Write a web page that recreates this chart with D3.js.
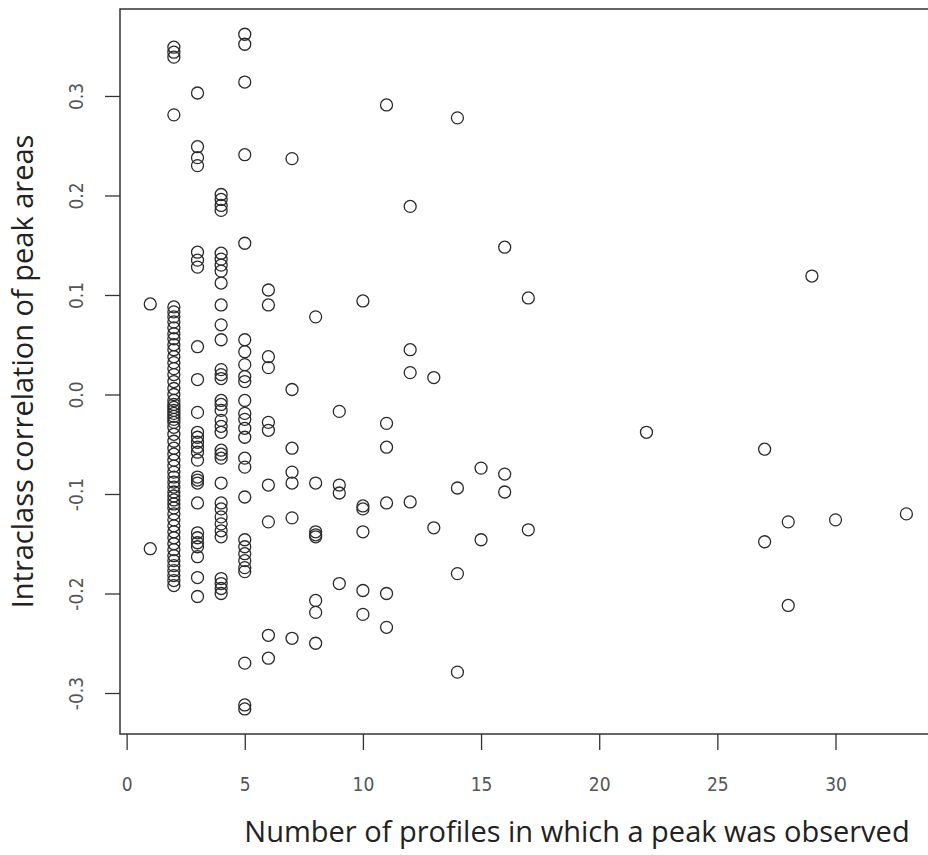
<!DOCTYPE html>
<html>
<head>
<meta charset="utf-8">
<script src="https://cdn.jsdelivr.net/npm/d3@7"></script>
<style>
  body { margin: 0; background: #fff; }
</style>
</head>
<body>
<div id="chart"></div>
<script>
// number of profiles (x) and the intraclass correlations seen at that count (y)
var profileCounts = [1, 2, 3, 4, 5, 6, 7, 8, 9, 10, 11, 12, 13, 14, 15, 16, 17, 22, 27, 28, 29, 30, 33];

var iccValues = [
    [0.091, -0.155],
    [0.349, 0.344, 0.339, 0.281,
     0.088, 0.083, 0.078, 0.073, 0.067, 0.061, 0.056, 0.05, 0.045, 0.038, 0.032, 0.026, 0.02, 0.013, 0.006, 0.0,
     -0.006, -0.01, -0.013, -0.016, -0.019, -0.022, -0.025, -0.028, -0.033, -0.04, -0.047, -0.054, -0.06, -0.066,
     -0.072, -0.078, -0.083, -0.088, -0.093, -0.098, -0.102, -0.106, -0.11, -0.114, -0.12, -0.126, -0.132, -0.138,
     -0.144, -0.15, -0.156, -0.162, -0.167, -0.172, -0.177, -0.182, -0.187, -0.192],
    [0.303, 0.249, 0.238, 0.23, 0.143, 0.135, 0.128, 0.048, 0.015, -0.018, -0.038, -0.043, -0.048, -0.053, -0.058,
     -0.066, -0.083, -0.086, -0.089, -0.109, -0.139, -0.144, -0.149, -0.153, -0.163, -0.184, -0.203],
    [0.201, 0.196, 0.19, 0.185, 0.142, 0.136, 0.13, 0.124, 0.112, 0.09, 0.07, 0.055, 0.025, 0.02, 0.016,
     -0.006, -0.01, -0.016, -0.026, -0.032, -0.038, -0.056, -0.06, -0.064, -0.089, -0.109, -0.115,
     -0.123, -0.13, -0.137, -0.143, -0.185, -0.19, -0.195, -0.2],
    [0.362, 0.352, 0.314, 0.241, 0.152, 0.055, 0.043, 0.03, 0.018, 0.013, -0.006, -0.019, -0.025, -0.034, -0.043,
     -0.064, -0.073, -0.103, -0.146, -0.153, -0.16, -0.167, -0.174, -0.178, -0.27, -0.312, -0.316],
    [0.105, 0.09, 0.038, 0.027, -0.028, -0.036, -0.091, -0.128, -0.242, -0.265],
    [0.237, 0.005, -0.054, -0.078, -0.089, -0.124, -0.245],
    [0.078, -0.089, -0.138, -0.141, -0.143, -0.207, -0.219, -0.25],
    [-0.017, -0.091, -0.099, -0.19],
    [0.094, -0.112, -0.115, -0.138, -0.197, -0.221],
    [0.291, -0.029, -0.053, -0.109, -0.2, -0.234],
    [0.189, 0.045, 0.022, -0.108],
    [0.017, -0.134],
    [0.278, -0.094, -0.18, -0.279],
    [-0.074, -0.146],
    [0.148, -0.08, -0.098],
    [0.097, -0.136],
    [-0.038],
    [-0.055, -0.148],
    [-0.128, -0.212],
    [0.119],
    [-0.126],
    [-0.12]
];

var xTicks = [0, 5, 10, 15, 20, 25, 30];
var yTicks = [-0.3, -0.2, -0.1, 0.0, 0.1, 0.2, 0.3];

var xTitle = "Number of profiles in which a peak was observed";
var yTitle = "Intraclass correlation of peak areas";

var width = 928, height = 855;
var plot = { left: 120, right: 1034, top: 9, bottom: 734 };

var points = [];
profileCounts.forEach(function (n, i) {
    iccValues[i].forEach(function (v) {
        points.push({ n: n, icc: v });
    });
});

var x = d3.scaleLinear().domain([-0.28, 38.4]).range([plot.left, plot.right]);
var y = d3.scaleLinear().domain([-0.3412, 0.3874]).range([plot.bottom, plot.top]);

var svg = d3.select("#chart")
    .append("svg")
    .attr("width", width)
    .attr("height", height)
    .style("font-family", "'Open Sans', 'Noto Sans', sans-serif");

// points
svg.append("g")
    .selectAll("circle")
    .data(points)
    .enter()
    .append("circle")
    .attr("cx", function (d) { return x(d.n); })
    .attr("cy", function (d) { return y(d.icc); })
    .attr("r", 6)
    .attr("fill", "none")
    .attr("stroke", "#2a2a2a")
    .attr("stroke-width", 1.3);

// box around the plot region
svg.append("rect")
    .attr("x", plot.left)
    .attr("y", plot.top)
    .attr("width", plot.right - plot.left)
    .attr("height", plot.bottom - plot.top)
    .attr("fill", "none")
    .attr("stroke", "#333")
    .attr("stroke-width", 1.5);

var xAxis = svg.append("g")
    .attr("transform", "translate(0," + plot.bottom + ")")
    .call(d3.axisBottom(x).tickValues(xTicks).tickSize(16).tickPadding(28).tickFormat(d3.format("d")));
xAxis.select(".domain").remove();
xAxis.selectAll("line").attr("stroke", "#333").attr("stroke-width", 1.3);
xAxis.selectAll("text")
    .attr("font-size", 19)
    .attr("fill", "#555")
    .attr("font-family", "'DejaVu Sans Condensed', 'Open Sans', sans-serif");

var yAxis = svg.append("g")
    .attr("transform", "translate(" + plot.left + ",0)")
    .call(d3.axisLeft(y).tickValues(yTicks).tickSize(15).tickFormat(d3.format(".1f")));
yAxis.select(".domain").remove();
yAxis.selectAll("line").attr("stroke", "#333").attr("stroke-width", 1.3);
yAxis.selectAll("text")
    .text(function (d) { return d3.format(".1f")(d).replace("\u2212", "-"); })
    .attr("transform", "rotate(-90)")
    .attr("x", 0)
    .attr("y", -37)
    .attr("dy", null)
    .attr("text-anchor", "middle")
    .attr("font-size", 19)
    .attr("fill", "#555")
    .attr("font-family", "'DejaVu Sans Condensed', 'Open Sans', sans-serif");

// axis titles
svg.append("text")
    .attr("x", (plot.left + plot.right) / 2)
    .attr("y", 842)
    .attr("text-anchor", "middle")
    .attr("font-size", 29)
    .attr("fill", "#222")
    .text(xTitle);

svg.append("text")
    .attr("transform", "translate(33," + (plot.top + plot.bottom) / 2 + ") rotate(-90)")
    .attr("text-anchor", "middle")
    .attr("font-size", 29)
    .attr("fill", "#222")
    .text(yTitle);
</script>
</body>
</html>
